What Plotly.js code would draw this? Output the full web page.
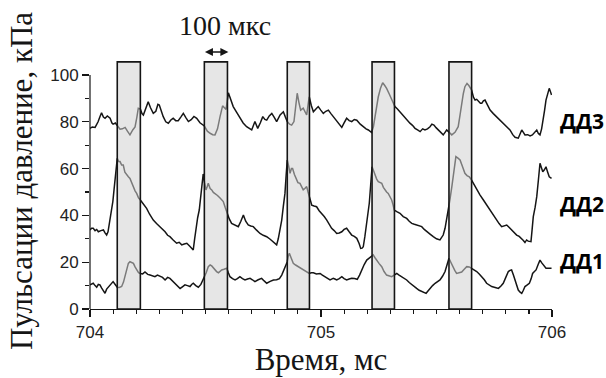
<!DOCTYPE html>
<html>
<head>
<meta charset="utf-8">
<script src="https://cdn.plot.ly/plotly-3.0.1.min.js"></script>
<style>html,body{margin:0;padding:0;background:#fff;}#chart{width:606px;height:378px;}</style>
</head>
<body>
<div id="chart"></div>
<script>
// ---- data (time in ms, pressure in kPa) ----
const t3 = [704.000,704.010,704.022,704.035,704.043,704.050,704.058,704.065,704.075,704.087,704.095,704.100,704.110,704.118,704.130,704.140,704.152,704.162,704.173,704.185,704.195,704.203,704.209,704.218,704.225,704.231,704.242,704.252,704.262,704.274,704.285,704.294,704.300,704.308,704.317,704.328,704.339,704.350,704.360,704.371,704.382,704.393,704.404,704.415,704.426,704.438,704.450,704.462,704.476,704.495,704.508,704.520,704.531,704.541,704.552,704.563,704.574,704.582,704.589,704.599,704.608,704.620,704.635,704.649,704.663,704.678,704.690,704.700,704.714,704.726,704.737,704.748,704.757,704.765,704.776,704.787,704.797,704.808,704.823,704.837,704.846,704.854,704.864,704.873,704.883,704.890,704.897,704.905,704.912,704.923,704.938,704.945,704.949,704.958,704.967,704.978,704.988,704.999,705.010,705.021,705.032,705.043,705.053,705.064,705.075,705.090,705.100,705.111,705.122,705.133,705.144,705.155,705.170,705.183,705.195,705.205,705.219,705.227,705.234,705.248,705.258,705.267,705.276,705.284,705.295,705.306,705.320,705.331,705.342,705.353,705.364,705.375,705.385,705.396,705.407,705.418,705.429,705.440,705.450,705.461,705.472,705.480,705.489,705.498,705.508,705.518,705.529,705.537,705.544,705.555,705.566,705.580,705.594,705.602,705.609,705.616,705.623,705.632,705.640,705.652,705.660,705.667,705.674,705.683,705.690,705.696,705.703,705.710,705.720,705.732,705.746,705.760,705.775,705.789,705.803,705.818,705.830,705.840,705.854,705.862,705.869,705.876,705.883,705.895,705.905,705.915,705.926,705.934,705.941,705.948,705.955,705.962,705.968,705.974,705.981,705.988,705.993,705.998];
const p3 = [77.2,77.8,77.6,80.0,82.2,83.9,82.0,81.5,82.5,81.5,79.5,79.0,79.5,78.6,76.8,77.0,77.6,76.0,74.4,76.5,77.8,82.0,85.8,85.4,83.5,82.9,86.0,88.6,86.0,83.6,84.5,87.5,87.2,84.5,82.2,80.0,79.4,80.8,81.5,80.5,80.5,82.0,83.6,81.8,80.1,80.9,82.3,81.5,79.6,78.2,76.0,75.1,74.5,74.4,77.0,82.2,86.8,86.0,85.3,92.4,90.0,86.5,84.0,81.5,79.5,77.9,77.0,76.5,80.1,77.2,79.5,82.2,81.0,80.7,82.5,83.6,82.0,80.1,82.9,84.3,82.0,80.1,79.0,78.6,80.1,86.0,92.2,88.0,85.0,85.8,82.9,88.0,90.7,87.0,84.3,85.5,86.5,85.0,83.6,84.5,85.0,83.5,82.2,80.5,79.4,77.6,79.5,81.5,80.5,80.1,81.0,80.7,79.0,77.9,77.0,76.5,75.4,78.0,82.2,90.7,94.5,96.7,95.5,94.3,92.0,89.3,86.5,85.5,84.3,83.0,81.5,80.5,79.4,78.5,77.2,76.5,75.8,77.0,76.5,77.0,77.9,79.0,78.6,77.5,76.5,75.5,74.4,75.5,76.5,75.5,74.4,75.5,77.9,83.0,87.9,92.0,95.0,96.4,95.5,93.6,90.5,89.3,89.6,88.5,87.9,87.9,89.0,89.3,87.0,85.0,83.5,82.2,80.5,79.4,78.0,76.5,74.5,73.4,73.0,75.0,76.5,75.5,74.4,74.5,74.0,74.4,75.5,76.5,75.0,74.4,77.0,80.8,85.0,89.3,92.5,94.3,93.0,91.5];

const t2 = [704.000,704.007,704.014,704.022,704.029,704.036,704.047,704.058,704.065,704.072,704.078,704.084,704.089,704.094,704.099,704.104,704.109,704.113,704.118,704.124,704.130,704.137,704.144,704.151,704.159,704.166,704.173,704.180,704.188,704.195,704.202,704.210,704.218,704.230,704.245,704.258,704.274,704.288,704.303,704.314,704.325,704.336,704.346,704.360,704.375,704.386,704.397,704.408,704.419,704.430,704.440,704.447,704.453,704.459,704.466,704.473,704.479,704.484,704.490,704.496,704.502,704.508,704.512,704.520,704.527,704.534,704.541,704.552,704.563,704.570,704.577,704.585,704.594,704.603,704.613,704.628,704.642,704.653,704.664,704.674,704.685,704.696,704.707,704.720,704.736,704.750,704.765,704.780,704.794,704.803,704.808,704.815,704.823,704.830,704.837,704.844,704.849,704.854,704.860,704.866,704.872,704.877,704.885,704.892,704.900,704.909,704.916,704.923,704.930,704.938,704.944,704.949,704.955,704.960,704.970,704.981,704.992,705.003,705.014,705.025,705.036,705.046,705.057,705.068,705.079,705.090,705.100,705.111,705.122,705.133,705.144,705.155,705.165,705.172,705.178,705.183,705.190,705.198,705.204,705.209,705.215,705.221,705.228,705.234,705.241,705.248,705.256,705.263,705.270,705.277,705.284,705.291,705.299,705.306,705.312,705.317,705.330,705.342,705.356,705.371,705.382,705.393,705.404,705.414,705.425,705.436,705.447,705.458,705.472,705.486,705.500,705.515,705.522,705.529,705.537,705.544,705.551,705.558,705.566,705.573,705.579,705.584,705.593,705.602,705.612,705.623,705.632,705.642,705.652,705.663,705.674,705.688,705.703,705.717,705.732,705.746,705.760,705.771,705.782,705.793,705.804,705.815,705.825,705.836,705.847,705.858,705.869,705.876,705.883,705.890,705.897,705.903,705.909,705.914,705.919,705.927,705.934,705.941,705.948,705.954,705.960,705.967,705.974,705.981,705.988,705.998];
const p2 = [33.8,34.5,34.5,33.5,34.0,33.0,33.5,33.8,32.5,31.6,33.0,36.6,39.0,42.3,46.0,50.9,56.0,60.8,64.4,63.0,63.0,61.5,61.5,58.5,57.3,56.5,55.8,54.0,52.3,50.5,49.4,47.5,46.6,45.0,43.0,40.5,38.0,36.5,35.2,34.0,33.0,31.5,30.9,29.5,28.1,28.5,27.4,27.8,28.1,27.0,25.9,25.2,30.0,35.2,39.0,42.3,48.0,53.7,57.7,54.0,50.9,52.5,53.7,51.5,50.9,49.8,49.4,48.5,47.4,46.5,45.9,43.5,40.9,38.5,36.6,36.0,35.2,37.5,40.2,37.5,35.9,35.5,35.2,33.8,32.3,31.5,30.9,29.8,28.8,28.0,27.4,30.0,34.0,38.0,44.0,49.4,57.0,63.7,61.0,58.0,60.0,60.0,57.5,55.8,54.0,53.7,52.0,50.9,51.5,52.3,50.0,48.0,46.0,44.4,44.0,43.7,42.0,40.9,39.5,38.0,36.0,34.5,33.5,32.3,32.5,33.0,34.0,34.5,33.0,31.6,31.0,30.2,28.0,25.9,26.0,26.6,31.0,36.6,41.0,45.2,53.0,60.8,59.0,57.3,55.5,54.4,54.0,53.7,52.0,50.9,50.0,49.4,48.0,46.6,44.5,42.3,41.5,40.9,39.5,38.7,37.5,36.6,36.2,35.9,35.5,35.2,34.0,33.0,32.0,30.9,30.0,29.5,30.5,31.6,34.5,38.0,42.0,46.6,52.0,58.0,62.0,65.1,64.5,63.7,61.0,58.0,57.0,56.5,55.1,53.0,50.9,48.8,46.6,44.5,42.3,40.0,38.0,36.5,35.2,35.6,35.9,34.8,33.8,32.7,31.6,31.0,30.2,29.3,28.4,29.5,29.0,28.8,28.8,34.0,39.5,43.5,48.0,55.0,62.3,60.5,58.7,59.5,60.8,58.5,56.5,55.8];

const t1 = [704.000,704.007,704.014,704.022,704.029,704.036,704.043,704.050,704.058,704.065,704.072,704.080,704.087,704.094,704.100,704.109,704.118,704.127,704.137,704.145,704.152,704.160,704.166,704.173,704.180,704.188,704.195,704.202,704.210,704.218,704.228,704.238,704.250,704.260,704.270,704.281,704.292,704.303,704.314,704.325,704.336,704.346,704.357,704.368,704.380,704.390,704.400,704.411,704.422,704.433,704.440,704.447,704.458,704.469,704.480,704.487,704.495,704.503,704.512,704.520,704.527,704.534,704.541,704.548,704.556,704.563,704.570,704.580,704.592,704.599,704.606,704.617,704.628,704.638,704.649,704.660,704.671,704.682,704.693,704.703,704.714,704.728,704.743,704.754,704.765,704.780,704.794,704.808,704.820,704.830,704.837,704.845,704.854,704.858,704.863,704.870,704.880,704.890,704.902,704.912,704.923,704.936,704.949,704.958,704.967,704.980,704.996,705.006,705.017,705.028,705.039,705.046,705.053,705.060,705.068,705.079,705.090,705.100,705.111,705.122,705.133,705.145,705.157,705.167,705.176,705.187,705.198,705.205,705.212,705.220,705.226,705.233,705.240,705.251,705.263,705.273,705.284,705.295,705.306,705.317,705.328,705.338,705.349,705.360,705.371,705.382,705.393,705.404,705.414,705.425,705.436,705.446,705.455,705.464,705.472,705.483,705.494,705.505,705.515,705.526,705.537,705.546,705.554,705.562,705.570,705.579,705.587,705.598,705.609,705.620,705.631,705.642,705.652,705.663,705.674,705.685,705.696,705.707,705.717,705.728,705.739,705.754,705.768,705.779,705.789,705.800,705.811,705.818,705.825,705.833,705.840,705.847,705.854,705.862,705.869,705.876,705.883,705.893,705.902,705.910,705.916,705.924,705.931,705.940,705.948,705.955,705.962,705.968,705.974,705.985,705.998];
const p1 = [10.3,10.8,11.0,10.0,9.3,10.5,10.3,9.0,8.0,6.7,8.5,9.5,10.3,11.0,11.7,10.5,9.3,9.2,9.6,11.5,13.8,17.0,19.5,20.2,20.0,19.5,18.0,16.7,15.5,15.2,15.0,15.8,14.8,14.5,14.2,13.8,14.5,14.1,13.5,12.4,13.5,13.1,12.0,11.0,10.0,8.8,9.5,10.3,10.0,9.6,10.5,11.0,10.0,9.3,10.5,12.0,13.1,15.5,18.1,18.8,18.4,17.5,16.7,16.0,15.5,16.0,16.7,17.0,17.4,15.5,13.8,13.0,12.4,13.0,13.8,13.0,12.4,12.8,13.1,12.5,11.7,12.5,13.1,12.0,11.0,11.8,12.4,12.5,13.0,14.5,16.0,18.0,20.2,22.5,23.8,22.0,19.5,18.8,18.1,17.5,16.7,16.0,15.2,15.5,15.5,15.0,15.2,14.5,13.8,13.0,12.4,12.8,13.1,12.8,12.4,13.0,13.8,13.0,12.4,12.8,13.1,13.0,12.7,14.5,16.7,19.0,20.9,21.5,21.7,22.5,23.1,22.0,20.9,19.5,18.1,16.0,14.5,14.0,13.8,14.5,15.2,14.5,13.8,13.0,12.4,11.3,10.3,9.5,8.8,8.0,7.4,7.0,6.7,7.8,8.8,10.0,11.0,11.8,12.4,14.0,16.0,19.0,21.7,20.0,18.1,16.5,15.2,15.5,15.8,17.0,18.1,18.0,17.4,16.8,16.0,15.0,13.8,12.5,11.0,10.3,9.6,9.2,8.8,9.8,11.0,13.5,16.0,16.5,16.7,14.5,12.4,10.0,8.1,7.2,6.7,8.0,9.6,10.3,11.0,13.0,15.2,16.0,16.7,19.0,20.9,19.8,18.8,18.0,17.4,17.4,17.4];

// shaded 100 µs windows
const rectStart = [704.118, 704.495, 704.854, 705.221, 705.554];
const rectEnd   = [704.218, 704.595, 704.950, 705.318, 705.652];
const rectTop = 105.6;

const seriesNames = ['ДД1', 'ДД2', 'ДД3'];
const labelLevels = [20.5, 44.9, 80.3];

const xTicks = [704, 705, 706];
const yTicks = [0, 20, 40, 60, 80, 100];
const xMinorStep = 0.1;
const yMinorStep = 10;

const spanLabel = '100 мкс';
const xTitle = 'Время, мс';
const yTitle = 'Пульсации давление, кПа';

// ---- styling / geometry ----
const ink = '#151515';
const serif = '"Liberation Serif", "Times New Roman", serif';
const sans = '"Liberation Sans", Arial, sans-serif';
const W = 606, H = 378;
const mL = 90, mR = 54, mT = 53, mB = 69;
const plotBottom = H - mB;
const yTopPx = 75;                                   // pixel row of the top tick
const yTop = yTicks[yTicks.length - 1] * (plotBottom - mT) / (plotBottom - yTopPx);
const paperY = py => (plotBottom - py) / (plotBottom - mT);

const lineStyle = {color: ink, width: 1.5};
const traces = [[t1, p1], [t2, p2], [t3, p3]].map((s, i) => ({
  type: 'scatter', mode: 'lines', x: s[0], y: s[1], name: seriesNames[i],
  line: lineStyle, hoverinfo: 'skip', cliponaxis: false
}));

const shapes = rectStart.map((x0, i) => ({
  type: 'rect', layer: 'above', xref: 'x', yref: 'y',
  x0: x0, x1: rectEnd[i], y0: 0, y1: rectTop,
  fillcolor: 'rgba(208,208,208,0.54)',
  line: {color: ink, width: 1.6}
})).concat([{
  // y axis line, only up to the top tick
  type: 'line', layer: 'above', xref: 'paper', yref: 'y',
  x0: 0, x1: 0, y0: yTicks[0], y1: yTicks[yTicks.length - 1],
  line: {color: ink, width: 1.2}
}]);

const annotations = [
  {xref: 'x', yref: 'paper', x: (rectStart[1] + rectEnd[1]) / 2 + 0.04, y: paperY(25),
   xanchor: 'center', yanchor: 'middle',
   text: spanLabel, showarrow: false, font: {family: serif, size: 28, color: ink}},
  {xref: 'x', yref: 'paper', x: rectEnd[1] + 0.004, y: paperY(52), axref: 'x', ayref: 'pixel',
   ax: rectStart[1] - 0.004, ay: 0, text: '', showarrow: true,
   arrowhead: 2, startarrowhead: 2, arrowside: 'end+start', arrowsize: 1,
   startarrowsize: 1, arrowwidth: 1.6, arrowcolor: ink, standoff: 0, startstandoff: 0}
].concat(seriesNames.map((n, i) => ({
  xref: 'paper', yref: 'y', x: 1, xshift: 6, xanchor: 'left', y: labelLevels[i],
  text: '<b>' + n + '</b>', showarrow: false,
  font: {family: '"Open Sans", sans-serif', size: 21, color: '#000'}
})));

const axisCommon = {
  showgrid: false, zeroline: false,
  ticks: 'outside', ticklen: 7, tickwidth: 1.2, tickcolor: ink,
  tickfont: {family: sans, size: 17, color: '#222'}
};

const layout = {
  width: W, height: H,
  margin: {l: mL, r: mR, t: mT, b: mB},
  paper_bgcolor: '#ffffff', plot_bgcolor: '#ffffff',
  showlegend: false,
  xaxis: Object.assign({}, axisCommon, {
    range: [xTicks[0], xTicks[xTicks.length - 1]], showline: true, linecolor: ink, linewidth: 1.2,
    tickmode: 'linear', tick0: xTicks[0], dtick: xTicks[1] - xTicks[0],
    minor: {dtick: xMinorStep, ticks: 'outside', ticklen: 4, tickwidth: 1.2, tickcolor: ink, showgrid: false},
    title: {text: xTitle, font: {family: serif, size: 31, color: ink}, standoff: 4}
  }),
  yaxis: Object.assign({}, axisCommon, {
    range: [0, yTop], showline: false,
    tickmode: 'linear', tick0: yTicks[0], dtick: yTicks[1] - yTicks[0],
    minor: {dtick: yMinorStep, ticks: 'outside', ticklen: 4, tickwidth: 1.2, tickcolor: ink, showgrid: false},
    title: {text: yTitle, font: {family: serif, size: 31, color: ink}, standoff: 8}
  }),
  shapes: shapes,
  annotations: annotations
};

Plotly.newPlot('chart', traces, layout, {staticPlot: true, displayModeBar: false});
</script>
</body>
</html>
